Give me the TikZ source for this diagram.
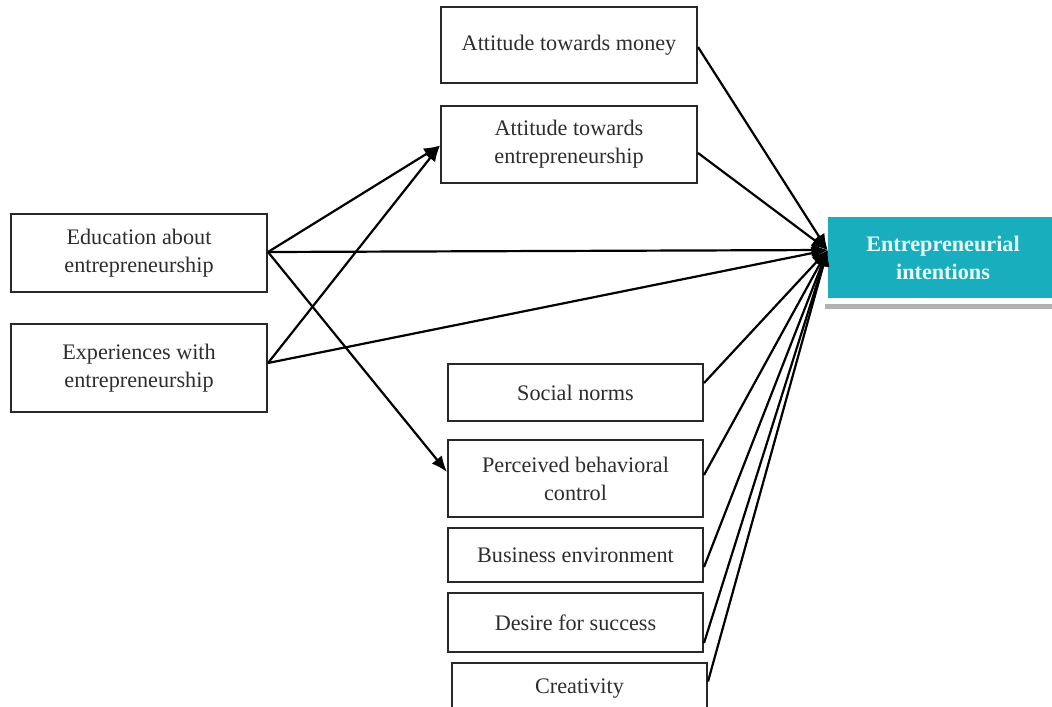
\documentclass[tikz,border=0pt]{standalone}
\usepackage{fontspec}
\setmainfont{Liberation Serif}
\usetikzlibrary{arrows.meta}
\definecolor{tealbox}{RGB}{24,174,190}
\definecolor{txtgray}{RGB}{45,45,45}
\definecolor{edgegray}{RGB}{40,40,40}
\definecolor{tealtext}{RGB}{232,250,250}
\begin{document}
\begin{tikzpicture}[x=0.5pt,y=-0.5pt,
  box/.style={draw=edgegray, line width=1pt, fill=white, text=txtgray, align=center,
    font=\fontsize{11.1}{14}\selectfont, inner sep=0pt},
  conn/.style={draw=black, line width=1.1pt},
  arr/.style={conn, -{Latex[length=8pt,width=6.5pt]}}]
\useasboundingbox (0,0) rectangle (1052,706);
\fill[white] (0,0) rectangle (1052,706);
% boxes
\node[box, minimum width=128pt, minimum height=38pt] (money) at (569,45) {Attitude towards money};
\node[box, minimum width=128pt, minimum height=38.5pt] (attent) at (569,144.5) {Attitude towards\\entrepreneurship};
\node[box, minimum width=128pt, minimum height=39pt] (edu) at (139,253) {Education about\\entrepreneurship};
\node[box, minimum width=128pt, minimum height=44pt] (exp) at (139,368) {Experiences with\\entrepreneurship};
\node[box, minimum width=127.5pt, minimum height=28.5pt] (social) at (575.5,392.5) {Social norms};
\node[box, minimum width=127.5pt, minimum height=38.5pt] (pbc) at (575.5,478.5) {Perceived behavioral\\control};
\node[box, minimum width=127.5pt, minimum height=27pt] (bus) at (575.5,555) {Business environment};
\node[box, minimum width=127.5pt, minimum height=29.5pt] (desire) at (575.5,622.5) {Desire for success};
\node[box, minimum width=127.5pt, minimum height=26pt] (creat) at (579.5,689) {Creativity};
% target
\fill[gray!60] (825,304) rectangle (1052,309);
\node[fill=tealbox, minimum width=115pt, minimum height=40.5pt, inner sep=0pt, align=center,
  text=tealtext, font=\fontsize{11.1}{14}\selectfont\bfseries] (target) at (943,257.5)
  {Entrepreneurial\\intentions};
\coordinate (conv) at ([yshift=3.75pt]target.west);
% connectors to target
\draw[arr] ([yshift=-1pt]money.east) -- (conv);
\draw[arr] ([yshift=-4.25pt]attent.east) -- (conv);
\draw[arr] ([yshift=0.5pt]edu.east) -- (conv);
\draw[arr] ([yshift=2.5pt]exp.east) -- (conv);
\draw[arr] ([yshift=4.75pt]social.east) -- (conv);
\draw[arr] ([yshift=1.75pt]pbc.east) -- (conv);
\draw[arr] ([yshift=-6pt]bus.east) -- (conv);
\draw[arr] ([yshift=-10.25pt]desire.east) -- (conv);
\draw[arr] ([yshift=3.75pt]creat.east) -- (conv);
% other connectors
\draw[arr] ([yshift=0.5pt]edu.east) -- ([yshift=-0.5pt]attent.west);
\draw[arr] ([yshift=2.5pt]exp.east) -- ([yshift=-0.5pt]attent.west);
\draw[arr] ([yshift=0.5pt]edu.east) -- ([yshift=3.25pt]pbc.west);
\end{tikzpicture}
\end{document}
